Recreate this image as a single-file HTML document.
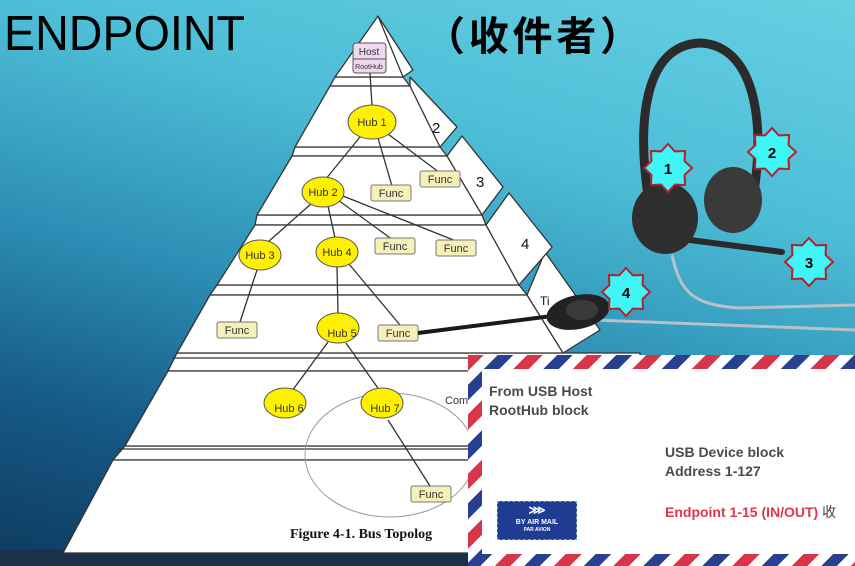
<!DOCTYPE html>
<html><head><meta charset="utf-8"><style>
html,body{margin:0;padding:0;}
body{width:855px;height:566px;overflow:hidden;position:relative;font-family:"Liberation Sans","Noto Sans CJK TC",sans-serif;
background:linear-gradient(195deg,#66d0e2 0%,#4dbdd6 30%,#2d90b6 55%,#165a86 78%,#0e3a5f 100%);}
svg{position:absolute;left:0;top:0;}
#env{position:absolute;left:468px;top:355px;width:387px;height:211px;
background:repeating-linear-gradient(135deg,#d8344a 0 11px,#fff 11px 21px,#27408f 21px 32px,#fff 32px 42px);}
#envin{position:absolute;left:14px;top:14px;right:0;bottom:12px;background:#fff;}
.t{position:absolute;font-weight:bold;font-size:14px;color:#4a4a4a;line-height:19px;}
#stamp{position:absolute;left:497px;top:501px;width:80px;height:39px;background:#1f3c93;border:1px dashed #8aa;color:#fff;font-size:7px;font-weight:bold;text-align:center;box-sizing:border-box;}
</style></head><body>
<svg width="855" height="566" viewBox="0 0 855 566">
<defs>
<polygon id="star" points="0,-24 6.9,-16.6 17,-17 16.6,-6.9 24,0 16.6,6.9 17,17 6.9,16.6 0,24 -6.9,16.6 -17,17 -16.6,6.9 -24,0 -16.6,-6.9 -17,-17 -6.9,-16.6" fill="#3ff5f5" stroke="#b5202c" stroke-width="2"/>
</defs>
<rect x="0" y="550" width="855" height="16" fill="#1b3049"/>
<text x="4" y="50" font-family="Liberation Sans,sans-serif" font-size="49" fill="#000" textLength="241" lengthAdjust="spacingAndGlyphs">ENDPOINT</text>
<text x="425" y="50" font-family="Liberation Sans,Noto Sans CJK TC,sans-serif" font-size="40" font-weight="bold" fill="#000" textLength="215">（收件者）</text>
<g fill="#fff" stroke="#333" stroke-width="1.3" stroke-linejoin="round">
<polygon points="125,446 640,446 640,460 113,460"/>
<polygon points="177,353 640,353 640,371 168,371"/>
<polygon points="217,285 519,285 527,295 210,295"/>
<polygon points="257,215 482,215 486,225 255,225"/>
<polygon points="295,147 440,147 447,156 292,156"/>
<polygon points="335,77 403,77 410,86 330,86"/>
<polygon points="113,460 640,460 640,553 63,553"/>
<line x1="118" y1="449" x2="640" y2="449"/>
<polygon points="168,371 640,371 640,446 125,446"/>
<line x1="173" y1="358" x2="640" y2="358"/>
<polygon points="210,295 527,295 545,252 600,330 563,353 177,353"/>
<line x1="527" y1="295" x2="563" y2="353"/>
<polygon points="255,225 486,225 509,193 552,247 519,285 217,285"/>
<line x1="486" y1="225" x2="519" y2="285"/>
<polygon points="292,156 447,156 462,136 503,187 482,215 257,215"/>
<line x1="447" y1="156" x2="482" y2="215"/>
<polygon points="330,86 410,86 410,77 457,127 440,147 295,147"/>
<line x1="410" y1="86" x2="440" y2="147"/>
<polygon points="378,16 413,70 403,77 335,77"/>
<line x1="378" y1="16" x2="403" y2="77"/>
</g>
<ellipse cx="390" cy="455" rx="85" ry="62" fill="none" stroke="#999" stroke-width="1"/>
<g stroke="#333" stroke-width="1.3">
<line x1="370" y1="73" x2="372" y2="106"/>
<line x1="360" y1="137" x2="325" y2="180"/>
<line x1="378" y1="138" x2="392" y2="186"/>
<line x1="388" y1="134" x2="440" y2="173"/>
<line x1="312" y1="203" x2="268" y2="242"/>
<line x1="328" y1="206" x2="335" y2="238"/>
<line x1="338" y1="200" x2="393" y2="240"/>
<line x1="343" y1="196" x2="456" y2="241"/>
<line x1="257" y1="270" x2="240" y2="322"/>
<line x1="337" y1="267" x2="338" y2="314"/>
<line x1="349" y1="264" x2="400" y2="325"/>
<line x1="328" y1="342" x2="292" y2="391"/>
<line x1="346" y1="343" x2="380" y2="391"/>
<line x1="388" y1="420" x2="430" y2="486"/>
</g>
<rect x="353" y="43" width="33" height="30" rx="3" fill="#f0d8f0" stroke="#555"/>
<line x1="353" y1="59" x2="386" y2="59" stroke="#555"/>
<text x="369" y="55" font-size="10" text-anchor="middle" fill="#333">Host</text>
<text x="369" y="69" font-size="7" text-anchor="middle" fill="#333">RootHub</text>
<g fill="#ffef00" stroke="#555" stroke-width="1">
<ellipse cx="372" cy="122" rx="24" ry="17"/>
<ellipse cx="323" cy="192" rx="21" ry="15"/>
<ellipse cx="260" cy="255" rx="21" ry="15"/>
<ellipse cx="337" cy="252" rx="21" ry="15"/>
<ellipse cx="338" cy="328" rx="21" ry="15"/>
<ellipse cx="285" cy="403" rx="21" ry="15"/>
<ellipse cx="382" cy="403" rx="21" ry="15"/>
</g>
<g font-size="11" fill="#333" text-anchor="middle">
<text x="372" y="126">Hub 1</text><text x="323" y="196">Hub 2</text><text x="260" y="259">Hub 3</text>
<text x="337" y="256">Hub 4</text><text x="342" y="337">Hub 5</text><text x="289" y="412">Hub 6</text><text x="385" y="412">Hub 7</text>
</g>
<g fill="#f5f0b8" stroke="#777" stroke-width="1">
<rect x="371" y="185" width="40" height="16" rx="2"/>
<rect x="420" y="171" width="40" height="16" rx="2"/>
<rect x="375" y="238" width="40" height="16" rx="2"/>
<rect x="436" y="240" width="40" height="16" rx="2"/>
<rect x="217" y="322" width="40" height="16" rx="2"/>
<rect x="378" y="325" width="40" height="16" rx="2"/>
<rect x="411" y="486" width="40" height="16" rx="2"/>
</g>
<g font-size="11" fill="#333" text-anchor="middle">
<text x="391" y="197">Func</text><text x="440" y="183">Func</text><text x="395" y="250">Func</text>
<text x="456" y="252">Func</text><text x="237" y="334">Func</text><text x="398" y="337">Func</text><text x="431" y="498">Func</text>
</g>
<g font-size="15" fill="#111"><text x="432" y="133">2</text><text x="476" y="187">3</text><text x="521" y="249">4</text><text x="540" y="305" font-size="12">Ti</text></g>
<text x="445" y="404" font-size="11" fill="#333">Com</text>
<text x="290" y="538" font-family="Liberation Serif,serif" font-weight="bold" font-size="14" fill="#111">Figure 4-1.  Bus Topolog</text>
<!-- headset -->
<path d="M650,208 C635,120 645,45 700,43 C750,45 765,110 755,185" fill="none" stroke="#2b2b2b" stroke-width="9"/>
<path d="M672,255 C680,290 690,305 740,308 L855,305" fill="none" stroke="#b8c0c8" stroke-width="3"/>
<path d="M595,320 L855,330" fill="none" stroke="#b8c0c8" stroke-width="3"/>
<ellipse cx="733" cy="200" rx="29" ry="33" fill="#3a3a3a"/>
<line x1="690" y1="240" x2="782" y2="252" stroke="#2a2a2a" stroke-width="6" stroke-linecap="round"/>
<ellipse cx="665" cy="218" rx="33" ry="36" fill="#2e2e2e"/>
<line x1="418" y1="333" x2="560" y2="315" stroke="#1a1a1a" stroke-width="4"/>
<ellipse cx="578" cy="312" rx="32" ry="17" transform="rotate(-12 578 312)" fill="#222"/>
<ellipse cx="582" cy="310" rx="16" ry="10" fill="#3a3a3a"/>
<use href="#star" x="668" y="168"/><use href="#star" x="772" y="152"/><use href="#star" x="809" y="262"/><use href="#star" x="626" y="292"/>
<g font-size="15" font-weight="bold" fill="#000" text-anchor="middle">
<text x="668" y="174">1</text><text x="772" y="158">2</text><text x="809" y="268">3</text><text x="626" y="298">4</text></g>
</svg>
<div id="env"><div id="envin"></div></div>
<div class="t" style="left:489px;top:382px;">From USB Host<br>RootHub block</div>
<div class="t" style="left:665px;top:443px;">USB Device block<br>Address 1-127</div>
<div class="t" style="left:665px;top:503px;color:#e2364a;">Endpoint 1-15 (IN/OUT) <span style="color:#444;font-weight:normal">收</span></div>
<div id="stamp"><div style="font-size:12px;line-height:17px;">⋙</div>BY AIR MAIL<br><span style="font-size:5px">PAR AVION</span></div>
</body></html>
